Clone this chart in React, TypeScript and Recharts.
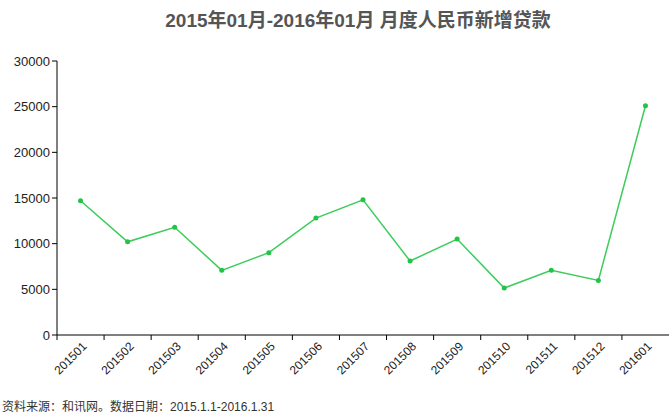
import { LineChart, Line, XAxis, YAxis } from 'recharts';

const months = ['201501', '201502', '201503', '201504', '201505', '201506', '201507', '201508', '201509', '201510', '201511', '201512', '201601'];
const loans = [14700, 10200, 11800, 7080, 9010, 12800, 14800, 8100, 10500, 5140, 7090, 5980, 25100];
const yTicks = [0, 5000, 10000, 15000, 20000, 25000, 30000];

const data = months.map((m, i) => ({ month: m, value: loans[i] }));

const FONT = '"Liberation Sans", Arial, "Noto Sans CJK SC", sans-serif';
const BAND = 612 / months.length;

function MonthTick(props: any) {
  const { x, y, payload } = props;
  const lx = x - BAND / 2;
  const tx = x + 7;
  const ty = y + 7;
  return (
    <g>
      <line x1={lx} x2={lx} y1={y - 5} y2={y} stroke="#000" />
      <text x={tx} y={ty} textAnchor="end" fontSize={12} fill="#222" fontFamily={FONT}
        transform={`rotate(-45, ${tx}, ${ty})`}>
        {payload.value}
      </text>
    </g>
  );
}

export default function App() {
  return (
    <div style={{ position: 'absolute', left: 0, top: 0, width: 669, height: 417, background: '#fff', fontFamily: FONT }}>
      <div style={{ position: 'absolute', left: 0, width: 716, top: 5, textAlign: 'center', fontSize: 19, fontWeight: 'bold', color: '#555' }}>
        2015年01月-2016年01月 月度人民币新增贷款
      </div>
      <LineChart width={669} height={417} data={data} margin={{ top: 61, right: 0, left: 0, bottom: 0 }}>
        <XAxis dataKey="month" height={82} axisLine={{ stroke: '#000' }} tickLine={false}
          padding={{ left: BAND / 2, right: BAND / 2 }}
          tickSize={5} tickMargin={0} interval={0} tick={<MonthTick />} />
        <YAxis width={57} domain={[0, 30000]} ticks={yTicks} interval={0}
          axisLine={{ stroke: '#000' }} tickLine={{ stroke: '#000' }} tickSize={5} tickMargin={2}
          tick={{ fontSize: 13, fill: '#222', fontFamily: FONT }} />
        <Line type="linear" dataKey="value" stroke="#3ccc5c" strokeWidth={1.5}
          dot={{ r: 2.5, fill: '#22c448', stroke: 'none' }} activeDot={false} isAnimationActive={false} />
      </LineChart>
      <div style={{ position: 'absolute', left: 2, top: 397, fontSize: 12, color: '#333', whiteSpace: 'nowrap' }}>
        资料来源：和讯网。数据日期：2015.1.1-2016.1.31
      </div>
    </div>
  );
}
